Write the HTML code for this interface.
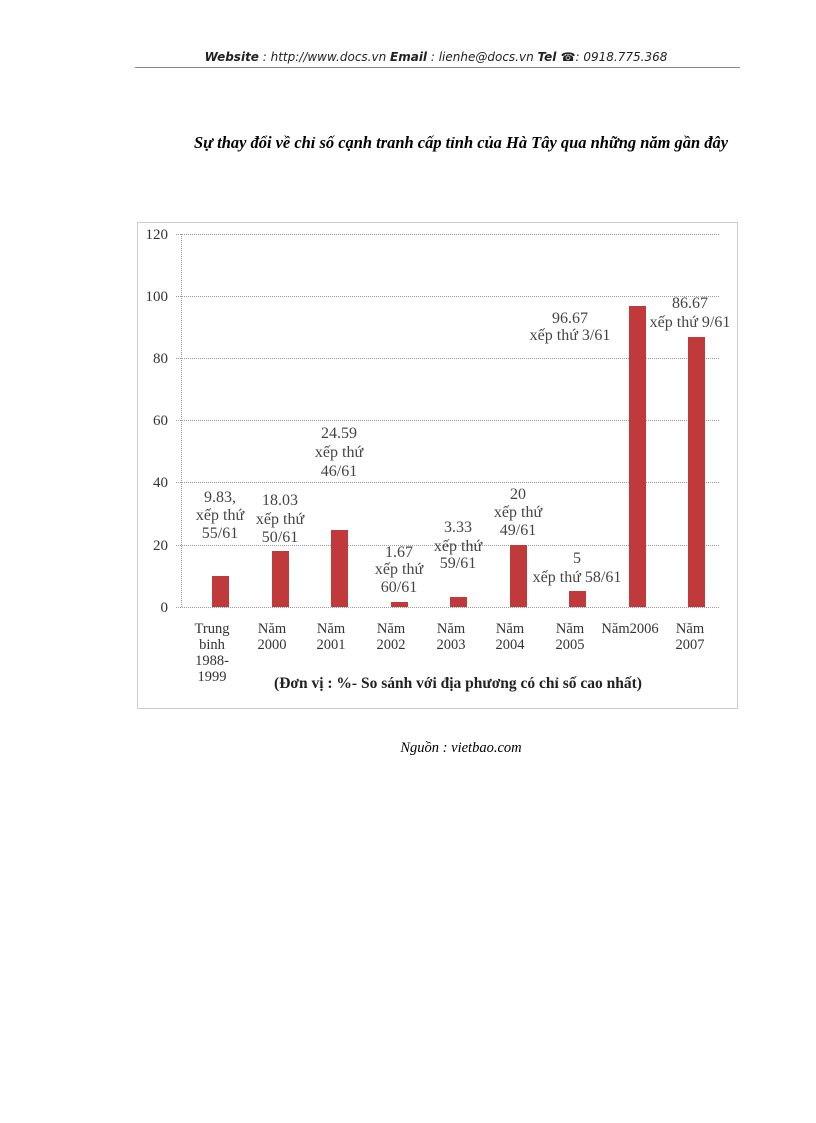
<!DOCTYPE html>
<html><head><meta charset="utf-8"><style>
body{margin:0;background:#fff;width:816px;height:1123px;overflow:hidden;position:relative}
</style></head><body>
<svg width="816" height="1123" xmlns="http://www.w3.org/2000/svg" style="position:absolute;left:0;top:0">
<text x="436" y="61" text-anchor="middle" font-family="DejaVu Sans, sans-serif" font-size="12" font-style="italic" fill="#222"><tspan font-weight="bold">Website</tspan> : http://www.docs.vn  <tspan font-weight="bold">Email</tspan>  : lienhe@docs.vn   <tspan font-weight="bold">Tel ☎</tspan>: 0918.775.368</text>
<line x1="135" y1="67.5" x2="740" y2="67.5" stroke="#888" stroke-width="1"/>
<text x="461" y="148" text-anchor="middle" font-family="Liberation Serif, serif" font-size="16.5" font-style="italic" font-weight="bold" fill="#000" textLength="534" lengthAdjust="spacingAndGlyphs">Sự thay đổi về chỉ số cạnh tranh cấp tỉnh của Hà Tây qua những năm gần đây</text>
<rect x="137.5" y="222.5" width="600" height="486" fill="none" stroke="#999" stroke-dasharray="1,1"/>
<g stroke="#999" stroke-dasharray="1,1">
<line x1="176" y1="234.5" x2="719" y2="234.5"/>
<line x1="176" y1="296.5" x2="719" y2="296.5"/>
<line x1="176" y1="358.5" x2="719" y2="358.5"/>
<line x1="176" y1="420.5" x2="719" y2="420.5"/>
<line x1="176" y1="482.5" x2="719" y2="482.5"/>
<line x1="176" y1="545.5" x2="719" y2="545.5"/>
<line x1="176" y1="607.5" x2="719" y2="607.5"/>
<line x1="181.5" y1="234" x2="181.5" y2="607"/>
</g>
<g font-family="Liberation Serif, serif" font-size="15" fill="#333" text-anchor="end">
<text x="168" y="239">120</text><text x="168" y="301">100</text><text x="168" y="363">80</text>
<text x="168" y="425">60</text><text x="168" y="487">40</text><text x="168" y="550">20</text><text x="168" y="612">0</text>
</g>
<g fill="#c0393b">
<rect x="212" y="576" width="17" height="31"/>
<rect x="272" y="551" width="17" height="56"/>
<rect x="331" y="530" width="17" height="77"/>
<rect x="391" y="602" width="17" height="5"/>
<rect x="450" y="597" width="17" height="10"/>
<rect x="510" y="545" width="17" height="62"/>
<rect x="569" y="591" width="17" height="16"/>
<rect x="629" y="306" width="17" height="301"/>
<rect x="688" y="337" width="17" height="270"/>
</g>
<g font-family="Liberation Serif, serif" font-size="16" fill="#444" text-anchor="middle">
<text x="220" y="502">9.83,</text><text x="220" y="520">xếp thứ</text><text x="220" y="538">55/61</text>
<text x="280" y="505">18.03</text><text x="280" y="524">xếp thứ</text><text x="280" y="542">50/61</text>
<text x="339" y="438">24.59</text><text x="339" y="457">xếp thứ</text><text x="339" y="476">46/61</text>
<text x="399" y="557">1.67</text><text x="399" y="574">xếp thứ</text><text x="399" y="592">60/61</text>
<text x="458" y="532">3.33</text><text x="458" y="551">xếp thứ</text><text x="458" y="568">59/61</text>
<text x="518" y="499">20</text><text x="518" y="517">xếp thứ</text><text x="518" y="535">49/61</text>
<text x="577" y="563">5</text><text x="577" y="582">xếp thứ 58/61</text>
<text x="570" y="323">96.67</text><text x="570" y="340">xếp thứ 3/61</text>
<text x="690" y="308">86.67</text><text x="690" y="327">xếp thứ 9/61</text>
</g>
<g font-family="Liberation Serif, serif" font-size="14.5" fill="#333" text-anchor="middle">
<text x="212" y="633">Trung</text><text x="212" y="649">binh</text><text x="212" y="665">1988-</text><text x="212" y="681">1999</text>
<text x="272" y="633">Năm</text><text x="272" y="649">2000</text>
<text x="331" y="633">Năm</text><text x="331" y="649">2001</text>
<text x="391" y="633">Năm</text><text x="391" y="649">2002</text>
<text x="451" y="633">Năm</text><text x="451" y="649">2003</text>
<text x="510" y="633">Năm</text><text x="510" y="649">2004</text>
<text x="570" y="633">Năm</text><text x="570" y="649">2005</text>
<text x="630" y="633">Năm2006</text>
<text x="690" y="633">Năm</text><text x="690" y="649">2007</text>
</g>
<text x="458" y="688" text-anchor="middle" font-family="Liberation Serif, serif" font-size="15.5" font-weight="bold" fill="#222">(Đơn vị : %- So sánh với địa phương có chỉ số cao nhất)</text>
<text x="461" y="752" text-anchor="middle" font-family="Liberation Serif, serif" font-size="14.5" font-style="italic" fill="#000">Nguồn : vietbao.com</text>
</svg>
</body></html>
